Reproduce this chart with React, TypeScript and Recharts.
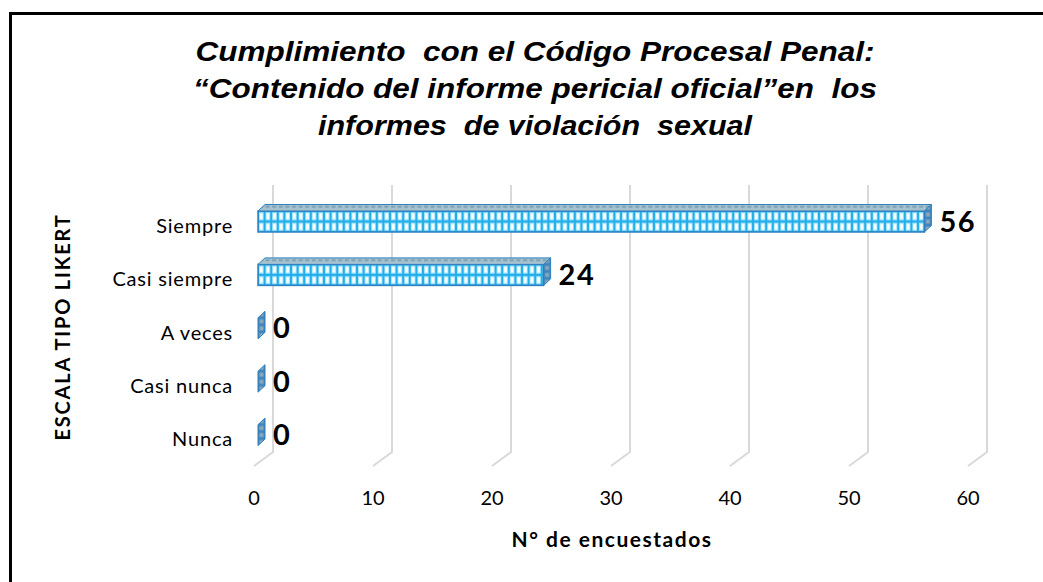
import React from "react";
import {
  BarChart,
  Bar,
  XAxis,
  YAxis,
  CartesianGrid,
  LabelList,
} from "recharts";

// values
const categories = ["Siempre", "Casi siempre", "A veces", "Casi nunca", "Nunca"];
const respondents = [56, 24, 0, 0, 0];
const xTicks = [0, 10, 20, 30, 40, 50, 60];
const titleLines = [
  "Cumplimiento  con el Código Procesal Penal:",
  "“Contenido del informe pericial oficial”en  los",
  "informes  de violación  sexual",
];
const titleWidths = [679, 684, 434];

const data = categories.map((name, i) => ({ name, value: respondents[i] }));

const W = 1043;
const H = 582;
const DEPTH_X = 19;
const DEPTH_Y = 14;
const BAR_DX = 7;
const BAR_DY = 6.5;
const labelFont = "Lato, 'Open Sans', sans-serif";

// grid line drawn on the back wall plus the floor diagonal
const GridLine = (props: any) => {
  const { x1, y1, y2 } = props;
  return (
    <path
      d={`M${x1 + DEPTH_X},${y1 - DEPTH_Y} L${x1 + DEPTH_X},${y2 - DEPTH_Y} L${x1},${y2}`}
      stroke="#D9D9D9"
      strokeWidth={2}
      fill="none"
    />
  );
};

const Box3D = (props: any) => {
  const { x, y, width, height, index } = props;
  const cy = y + height / 2;
  const x0 = x + 4;
  const x1 = x + width + 4;
  const top = cy - 15;
  const bot = cy + 6;
  const fh = bot - top;
  const id = `b${index}`;
  const stroke = "#2F7FC0";
  return (
    <g>
      <defs>
        <pattern id={`${id}f`} patternUnits="userSpaceOnUse" x={x0} y={top} width={6.6} height={fh / 2}>
          <rect width={6.6} height={fh / 2} fill="#22AEEA" />
          <rect x={1} y={1.2} width={4.6} height={fh / 2 - 2.4} fill="#A8E6FC" />
          <rect x={2} y={2.4} width={2.6} height={fh / 2 - 4.8} fill="#FFFFFF" />
        </pattern>
        <pattern id={`${id}t`} patternUnits="userSpaceOnUse" x={x0} y={top - BAR_DY} width={6.6} height={BAR_DY}>
          <rect width={6.6} height={BAR_DY} fill="#A7C2CF" />
          <rect x={1} y={1.5} width={4} height={1.6} fill="#6F98AE" />
        </pattern>
        <pattern id={`${id}s`} patternUnits="userSpaceOnUse" x={x1} y={top} width={BAR_DX} height={fh / 3}>
          <rect width={BAR_DX} height={fh / 3} fill="#3D86C0" />
          <rect x={1.5} y={1.5} width={BAR_DX - 3} height={fh / 3 - 3} fill="#8CA7B6" />
        </pattern>
      </defs>
      {width > 0.5 && (
        <>
          <rect x={x0} y={top} width={x1 - x0} height={fh} fill={`url(#${id}f)`} stroke={stroke} strokeWidth={1.5} />
          <path
            d={`M${x0},${top} L${x0 + BAR_DX},${top - BAR_DY} L${x1 + BAR_DX},${top - BAR_DY} L${x1},${top} Z`}
            fill={`url(#${id}t)`}
            stroke={stroke}
            strokeWidth={1}
          />
        </>
      )}
      <path
        d={`M${x1},${top} L${x1 + BAR_DX},${top - BAR_DY} L${x1 + BAR_DX},${bot - BAR_DY} L${x1},${bot} Z`}
        fill={`url(#${id}s)`}
        stroke={stroke}
        strokeWidth={1}
      />
    </g>
  );
};

const CategoryTick = (props: any) => {
  const { x, y, payload } = props;
  return (
    <text
      x={x - 13}
      y={y}
      dy="0.35em"
      textAnchor="end"
      fontFamily={labelFont}
      fontSize={20}
      letterSpacing={0.8}
      fill="#000"
    >
      {payload.value}
    </text>
  );
};

const ValueTick = (props: any) => {
  const { x, y, payload } = props;
  return (
    <text x={x} y={y + 24} dy="0.35em" textAnchor="middle" fontFamily={labelFont} fontSize={20} fill="#000">
      {payload.value}
    </text>
  );
};

const ValueLabel = (props: any) => {
  const { x, y, width, height, value } = props;
  return (
    <text
      x={x + width + 19}
      y={y + height / 2 - 4.5}
      dy="0.35em"
      fontFamily={labelFont}
      fontWeight="bold"
      fontSize={29}
      letterSpacing={1.5}
      fill="#000"
    >
      {value}
    </text>
  );
};

export default function App() {
  return (
    <div style={{ position: "absolute", left: 0, top: 0, width: W, height: H, background: "#fff", overflow: "hidden" }}>
      <div
        style={{
          position: "absolute",
          left: 9,
          top: 12,
          width: W,
          height: H,
          borderTop: "3px solid #000",
          borderLeft: "3px solid #000",
        }}
      />
      <BarChart
        width={W}
        height={H}
        data={data}
        layout="vertical"
        margin={{ top: 199, right: 75, bottom: 86, left: 0 }}
        barCategoryGap={0}
        style={{ position: "absolute", left: 0, top: 0 }}
      >
        {titleLines.map((t, i) => (
          <text
            key={i}
            x={535}
            y={61 + i * 37}
            textAnchor="middle"
            fontFamily="'Liberation Sans', Arial, sans-serif"
            fontStyle="italic"
            fontWeight="bold"
            fontSize={28}
            textLength={titleWidths[i]}
            lengthAdjust="spacingAndGlyphs"
            style={{ whiteSpace: "pre" }}
            fill="#000"
          >
            {t}
          </text>
        ))}
        <CartesianGrid horizontal={false} vertical={(p: any) => <GridLine key={p.key} {...p} />} />
        <XAxis
          type="number"
          domain={[0, 60]}
          ticks={xTicks}
          axisLine={false}
          tickLine={false}
          tick={<ValueTick />}
          interval={0}
        />
        <YAxis
          type="category"
          dataKey="name"
          width={254}
          axisLine={false}
          tickLine={false}
          tick={<CategoryTick />}
          interval={0}
        />
        <Bar dataKey="value" barSize={22} shape={<Box3D />} isAnimationActive={false}>
          <LabelList dataKey="value" content={<ValueLabel />} />
        </Bar>
        <text
          x={612}
          y={540}
          dy="0.35em"
          textAnchor="middle"
          fontFamily={labelFont}
          fontWeight="bold"
          fontSize={21}
          letterSpacing={1.5}
          fill="#000"
        >
          N° de encuestados
        </text>
        <text
          transform="translate(63,327) rotate(-90)"
          dy="0.35em"
          textAnchor="middle"
          fontFamily={labelFont}
          fontWeight="bold"
          fontSize={20}
          letterSpacing={1.8}
          fill="#000"
        >
          ESCALA TIPO LIKERT
        </text>
      </BarChart>
    </div>
  );
}
